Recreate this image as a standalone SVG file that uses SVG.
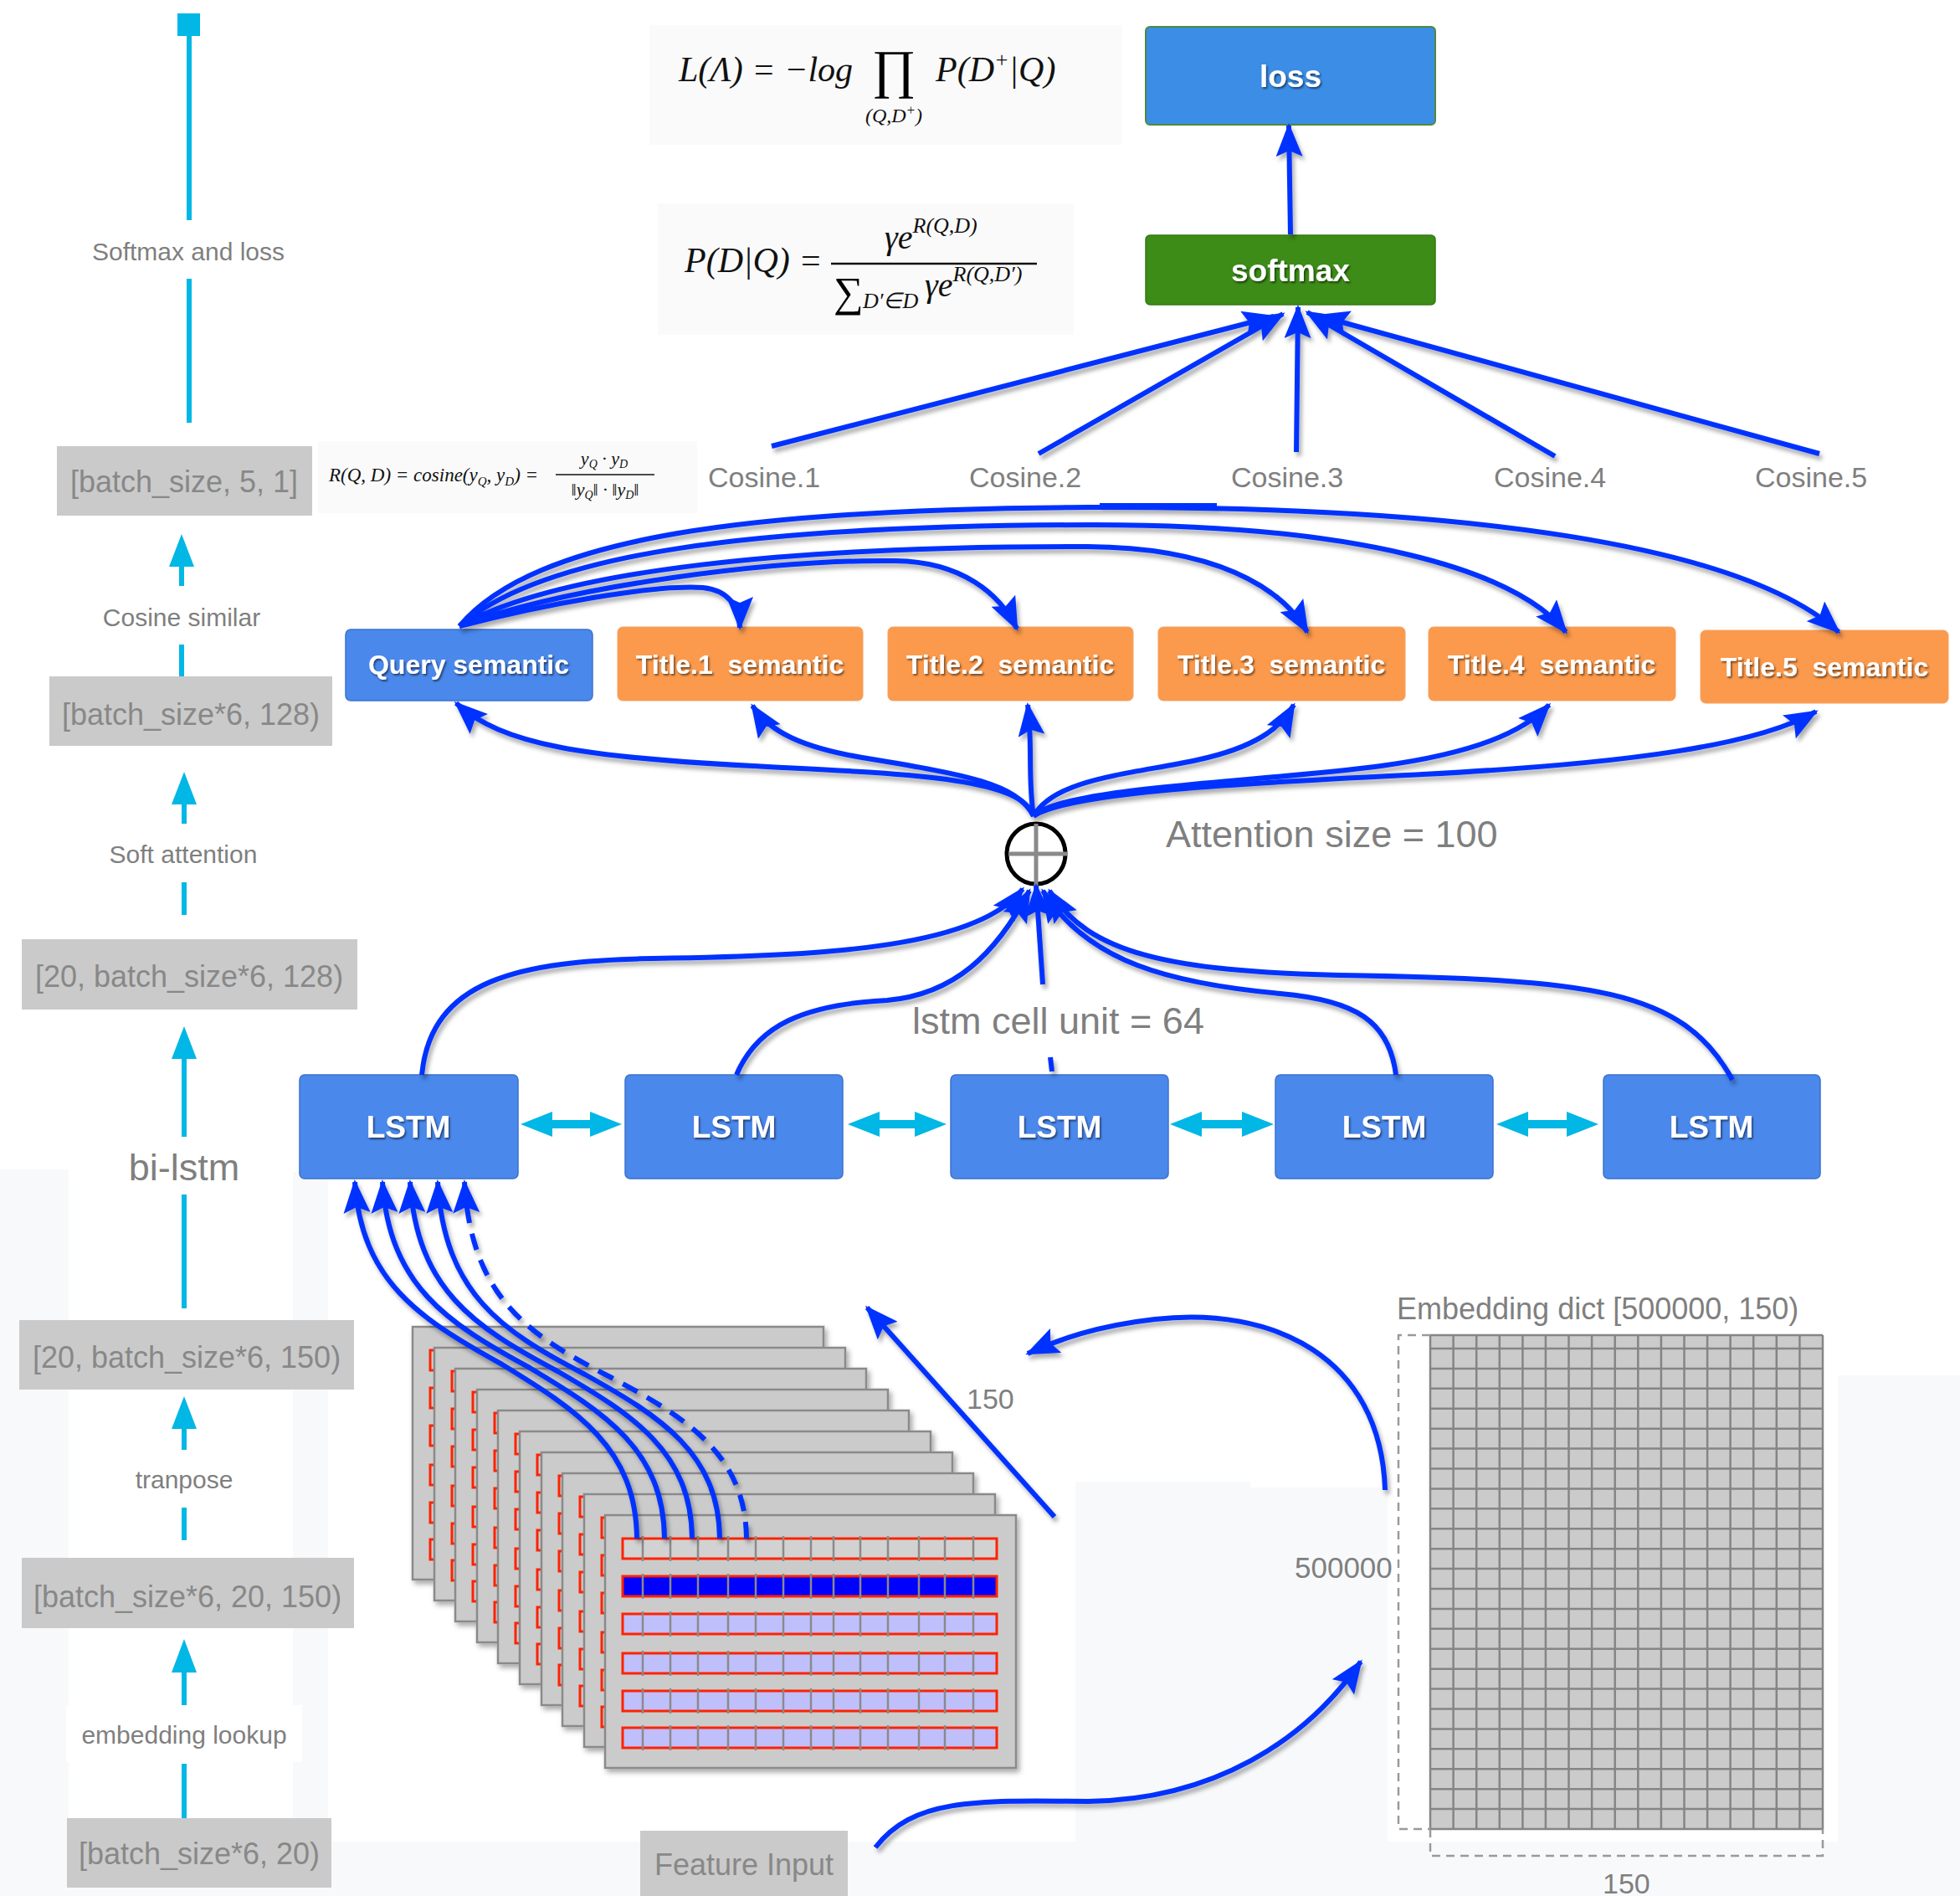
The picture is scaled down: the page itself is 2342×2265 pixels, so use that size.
<svg xmlns="http://www.w3.org/2000/svg" xmlns:xlink="http://www.w3.org/1999/xlink" width="2342" height="2265" viewBox="0 0 2342 2265">
<style>
.lbl{font-family:"Liberation Sans",Arial,sans-serif;fill:#7f7f7f}
.dim{font-family:"Liberation Sans",Arial,sans-serif;fill:#888;font-size:36px;text-anchor:middle}
.dimbox{fill:#cacaca}
.cy{stroke:#00b7e5;stroke-width:6;fill:none}
.cyf{fill:#00b7e5}
.bl{stroke:#0433ff;stroke-width:6;fill:none}
.ar{marker-end:url(#ah)}
.wt{font-family:"Liberation Sans",Arial,sans-serif;font-weight:bold;fill:#fff;text-anchor:middle;filter:url(#ts)}
.lstm{fill:#4a88ec;stroke:#3d72cc;stroke-width:1.5}
.ttl{fill:#fb9a4c;stroke:#f3a062;stroke-width:1}
.math{font-family:"Liberation Serif","Times New Roman",serif;font-style:italic;fill:#111}
.fbg{fill:#fafafa}
.bg{fill:#f8f9fb}
</style>
<defs>
<filter id="sh" x="-10%" y="-10%" width="120%" height="130%"><feDropShadow dx="3" dy="5" stdDeviation="2.5" flood-color="#000" flood-opacity="0.32"/></filter>
<filter id="ts" x="-10%" y="-20%" width="120%" height="150%"><feDropShadow dx="1.5" dy="2" stdDeviation="1.3" flood-color="#000" flood-opacity="0.55"/></filter>
<filter id="cs" x="-5%" y="-5%" width="115%" height="115%"><feDropShadow dx="3" dy="4" stdDeviation="3" flood-color="#000" flood-opacity="0.35"/></filter>
<marker id="ah" viewBox="0 0 40 32" refX="37" refY="16" markerWidth="40" markerHeight="32" markerUnits="userSpaceOnUse" orient="auto"><path d="M0,0 L40,16 L0,32 L7,16 z" fill="#0433ff"/></marker>
<g id="cardBack">
<rect width="491" height="302" fill="#cbcbcb" stroke="#8a8a8a" stroke-width="2.5"/>
<g fill="none" stroke="#ff2200" stroke-width="3">
<rect x="21" y="28" width="447" height="24"/><rect x="21" y="73" width="447" height="24"/><rect x="21" y="118" width="447" height="24"/><rect x="21" y="165" width="447" height="24"/><rect x="21" y="210" width="447" height="24"/><rect x="21" y="254" width="447" height="24"/>
</g>
</g>
<path id="divs" d="M768 0v30M801 0v30M834 0v30M870 0v30M903 0v30M936 0v30M969 0v30M996 0v30M1028 0v30M1061 0v30M1098 0v30M1129 0v30M1163 0v30" stroke="#8a8a8a" stroke-width="2.5" fill="none"/>
</defs>

<g id="background">
<rect x="0" y="0" width="2342" height="2265" fill="#ffffff"/>
<rect class="bg" x="0" y="1397" width="82" height="813"/>
<rect class="bg" x="350" y="1400" width="42" height="800"/>
<rect class="bg" x="1285" y="1770" width="209" height="440"/>
<rect class="bg" x="1494" y="1777" width="164" height="460"/>
<rect class="bg" x="2196" y="1643" width="146" height="567"/>
<rect x="0" y="2200" width="2342" height="65" fill="#f8f9fb"/>
</g>

<g id="left-column">
<rect class="cyf" x="212" y="16" width="27" height="27"/>
<line class="cy" x1="226" y1="43" x2="226" y2="263"/>
<text class="lbl" x="225" y="311" font-size="30" text-anchor="middle">Softmax and loss</text>
<line class="cy" x1="226" y1="333" x2="226" y2="505"/>
<g id="dim1"><rect class="dimbox" x="68" y="533" width="305" height="83"/><text class="dim" x="220" y="588">[batch_size, 5, 1]</text></g>
<line class="cy" x1="217" y1="700" x2="217" y2="672"/><polygon class="cyf" points="217,638 202,677 232,677"/>
<text class="lbl" x="217" y="748" font-size="30" text-anchor="middle">Cosine similar</text>
<line class="cy" x1="217" y1="770" x2="217" y2="809"/>
<g id="dim2"><rect class="dimbox" x="59" y="808" width="338" height="83"/><text class="dim" x="228" y="866">[batch_size*6, 128)</text></g>
<line class="cy" x1="220" y1="984" x2="220" y2="956"/><polygon class="cyf" points="220,922 205,961 235,961"/>
<text class="lbl" x="219" y="1031" font-size="30" text-anchor="middle">Soft attention</text>
<line class="cy" x1="220" y1="1054" x2="220" y2="1093"/>
<g id="dim3"><rect class="dimbox" x="26" y="1122" width="401" height="84"/><text class="dim" x="226" y="1179">[20, batch_size*6, 128)</text></g>
<line class="cy" x1="220" y1="1358" x2="220" y2="1260"/><polygon class="cyf" points="220,1226 205,1265 235,1265"/>
<text class="lbl" x="220" y="1410" font-size="45" text-anchor="middle">bi-lstm</text>
<line class="cy" x1="220" y1="1427" x2="220" y2="1563"/>
<g id="dim4"><rect class="dimbox" x="23" y="1577" width="400" height="83"/><text class="dim" x="223" y="1634">[20, batch_size*6, 150)</text></g>
<line class="cy" x1="220" y1="1732" x2="220" y2="1702"/><polygon class="cyf" points="220,1668 205,1707 235,1707"/>
<rect x="145" y="1732" width="149" height="68" fill="#fff"/>
<text class="lbl" x="220" y="1778" font-size="30" text-anchor="middle">tranpose</text>
<line class="cy" x1="220" y1="1801" x2="220" y2="1840"/>
<g id="dim5"><rect class="dimbox" x="26" y="1861" width="397" height="84"/><text class="dim" x="224" y="1920">[batch_size*6, 20, 150)</text></g>
<line class="cy" x1="220" y1="2037" x2="220" y2="1992"/><polygon class="cyf" points="220,1958 205,1998 235,1998"/>
<rect x="79" y="2037" width="282" height="68" fill="#fff"/>
<text class="lbl" x="220" y="2083" font-size="30" text-anchor="middle">embedding lookup</text>
<line class="cy" x1="220" y1="2107" x2="220" y2="2174"/>
<g id="dim6"><rect class="dimbox" x="80" y="2172" width="316" height="83"/><text class="dim" x="238" y="2227">[batch_size*6, 20)</text></g>
</g>

<g id="formula-loss">
<rect class="fbg" x="776" y="30" width="565" height="143"/>
<text class="math" x="811" y="97" font-size="42">L(Λ) = −log</text>
<text x="1042" y="104" font-family="Liberation Serif,serif" font-size="64">∏</text>
<text class="math" x="1118" y="97" font-size="42">P(D<tspan font-size="26" dy="-17">+</tspan><tspan dy="17">|Q)</tspan></text>
<text class="math" x="1068" y="146" font-size="24" text-anchor="middle">(Q,D<tspan font-size="17" dy="-9">+</tspan><tspan dy="9">)</tspan></text>
</g>

<g id="formula-softmax">
<rect class="fbg" x="786" y="243" width="497" height="157"/>
<text class="math" x="818" y="325" font-size="42">P(D|Q) =</text>
<line x1="993" y1="315" x2="1239" y2="315" stroke="#111" stroke-width="2.5"/>
<text class="math" x="1057" y="297" font-size="40">γe<tspan font-size="26" dy="-19">R(Q,D)</tspan></text>
<text x="996" y="366" font-family="Liberation Serif,serif" font-size="50">∑</text>
<text class="math" x="1031" y="368" font-size="26">D′∈D</text>
<text class="math" x="1105" y="354" font-size="40">γe<tspan font-size="26" dy="-18">R(Q,D′)</tspan></text>
</g>

<g id="formula-cosine">
<rect class="fbg" x="380" y="527" width="453" height="86"/>
<text class="math" x="393" y="575" font-size="23">R(Q, D) = cosine(y<tspan font-size="15" dy="5">Q</tspan><tspan dy="-5">, y</tspan><tspan font-size="15" dy="5">D</tspan><tspan dy="-5">) =</tspan></text>
<text class="math" x="722" y="555" font-size="22" text-anchor="middle">y<tspan font-size="14" dy="4">Q</tspan><tspan dy="-4"> · y</tspan><tspan font-size="14" dy="4">D</tspan></text>
<line x1="664" y1="567" x2="782" y2="567" stroke="#111" stroke-width="1.5"/>
<text class="math" x="723" y="592" font-size="22" text-anchor="middle">‖y<tspan font-size="14" dy="4">Q</tspan><tspan dy="-4">‖ · ‖y</tspan><tspan font-size="14" dy="4">D</tspan><tspan dy="-4">‖</tspan></text>
</g>

<g id="loss"><rect x="1369" y="32" width="346" height="117" rx="5" fill="#3b8de6" stroke="#4f8a3c" stroke-width="2"/><text class="wt" x="1542" y="104" font-size="37">loss</text></g>
<g id="softmax"><rect x="1369" y="281" width="346" height="83" rx="5" fill="#3c8c17" stroke="#357a14" stroke-width="1.5"/><text class="wt" x="1542" y="336" font-size="37">softmax</text></g>

<g id="cosines" class="lbl" font-size="34">
<text x="846" y="582">Cosine.1</text>
<text x="1158" y="582">Cosine.2</text>
<text x="1471" y="582">Cosine.3</text>
<text x="1785" y="582">Cosine.4</text>
<text x="2097" y="582">Cosine.5</text>
</g>

<g id="query-semantic"><rect x="413" y="752" width="295" height="85" rx="6" fill="#4a88ec" stroke="#3d72cc" stroke-width="1.5"/><text class="wt" x="560" y="805" font-size="32">Query semantic</text></g>
<g id="title1"><rect class="ttl" x="738" y="749" width="293" height="88" rx="6"/><text class="wt" x="884" y="805" font-size="32" xml:space="preserve">Title.1  semantic</text></g>
<g id="title2"><rect class="ttl" x="1061" y="749" width="293" height="88" rx="6"/><text class="wt" x="1207" y="805" font-size="32" xml:space="preserve">Title.2  semantic</text></g>
<g id="title3"><rect class="ttl" x="1384" y="749" width="295" height="88" rx="6"/><text class="wt" x="1531" y="805" font-size="32" xml:space="preserve">Title.3  semantic</text></g>
<g id="title4"><rect class="ttl" x="1707" y="749" width="295" height="88" rx="6"/><text class="wt" x="1854" y="805" font-size="32" xml:space="preserve">Title.4  semantic</text></g>
<g id="title5"><rect class="ttl" x="2032" y="753" width="296" height="87" rx="6"/><text class="wt" x="2180" y="808" font-size="32" xml:space="preserve">Title.5  semantic</text></g>

<g id="attention-node">
<ellipse cx="1238" cy="1020" rx="35" ry="36" fill="#fff" stroke="#000" stroke-width="5"/>
<line x1="1238" y1="984" x2="1238" y2="1058" stroke="#8a8a8a" stroke-width="5"/>
<line x1="1205" y1="1020" x2="1276" y2="1020" stroke="#8a8a8a" stroke-width="5"/>
</g>
<text class="lbl" x="1393" y="1012" font-size="45">Attention size = 100</text>
<text class="lbl" x="1090" y="1235" font-size="45">lstm cell unit = 64</text>

<g id="lstm1"><rect class="lstm" x="358" y="1284" width="261" height="124" rx="6"/><text class="wt" x="488" y="1359" font-size="37">LSTM</text></g>
<g id="lstm2"><rect class="lstm" x="747" y="1284" width="260" height="124" rx="6"/><text class="wt" x="877" y="1359" font-size="37">LSTM</text></g>
<g id="lstm3"><rect class="lstm" x="1136" y="1284" width="260" height="124" rx="6"/><text class="wt" x="1266" y="1359" font-size="37">LSTM</text></g>
<g id="lstm4"><rect class="lstm" x="1524" y="1284" width="260" height="124" rx="6"/><text class="wt" x="1654" y="1359" font-size="37">LSTM</text></g>
<g id="lstm5"><rect class="lstm" x="1916" y="1284" width="259" height="124" rx="6"/><text class="wt" x="2045" y="1359" font-size="37">LSTM</text></g>

<g id="bi-arrows" class="cyf">
<polygon points="622,1343 660,1328 660,1338 705,1338 705,1328 743,1343 705,1358 705,1348 660,1348 660,1358"/>
<polygon points="1013,1343 1051,1328 1051,1338 1093,1338 1093,1328 1131,1343 1093,1358 1093,1348 1051,1348 1051,1358"/>
<polygon points="1398,1343 1436,1328 1436,1338 1484,1338 1484,1328 1522,1343 1484,1358 1484,1348 1436,1348 1436,1358"/>
<polygon points="1788,1343 1826,1328 1826,1338 1872,1338 1872,1328 1910,1343 1872,1358 1872,1348 1826,1348 1826,1358"/>
</g>

<g id="feature-stack" filter="url(#cs)">
<use href="#cardBack" x="493" y="1585"/>
<use href="#cardBack" x="519" y="1610"/>
<use href="#cardBack" x="544" y="1635"/>
<use href="#cardBack" x="570" y="1660"/>
<use href="#cardBack" x="595" y="1685"/>
<use href="#cardBack" x="621" y="1710"/>
<use href="#cardBack" x="647" y="1735"/>
<use href="#cardBack" x="672" y="1760"/>
<use href="#cardBack" x="698" y="1785"/>
<g id="front-card">
<rect x="723" y="1810" width="491" height="302" fill="#cbcbcb" stroke="#8a8a8a" stroke-width="2.5"/>
<g stroke="#ff2200" stroke-width="3">
<rect x="744" y="1838" width="447" height="24" fill="#d2d2d2"/>
<rect x="744" y="1883" width="447" height="24" fill="#0000ff"/>
<rect x="744" y="1928" width="447" height="24" fill="#bfbffc"/>
<rect x="744" y="1975" width="447" height="24" fill="#bfbffc"/>
<rect x="744" y="2020" width="447" height="24" fill="#bfbffc"/>
<rect x="744" y="2064" width="447" height="24" fill="#bfbffc"/>
</g>
<use href="#divs" y="1835"/><use href="#divs" y="1880"/><use href="#divs" y="1925"/><use href="#divs" y="1972"/><use href="#divs" y="2017"/><use href="#divs" y="2061"/>
</g>
</g>

<g id="embedding-dict">
<rect x="1709" y="1595" width="469" height="590" fill="#cbcbcb"/>
<path d="M1709 1595V2185M1736.6 1595V2185M1764.2 1595V2185M1791.8 1595V2185M1819.4 1595V2185M1846.9 1595V2185M1874.5 1595V2185M1902.1 1595V2185M1929.7 1595V2185M1957.3 1595V2185M1984.9 1595V2185M2012.5 1595V2185M2040.1 1595V2185M2067.6 1595V2185M2095.2 1595V2185M2122.8 1595V2185M2150.4 1595V2185M2178 1595V2185" stroke="#858585" stroke-width="2.5" fill="none"/>
<path d="M1709 1595H2178M1709 1611H2178M1709 1634.9H2178M1709 1658.8H2178M1709 1682.8H2178M1709 1706.7H2178M1709 1730.6H2178M1709 1754.5H2178M1709 1778.4H2178M1709 1802.3H2178M1709 1826.3H2178M1709 1850.2H2178M1709 1874.1H2178M1709 1898H2178M1709 1921.9H2178M1709 1945.8H2178M1709 1969.8H2178M1709 1993.7H2178M1709 2017.6H2178M1709 2041.5H2178M1709 2065.4H2178M1709 2089.3H2178M1709 2113.3H2178M1709 2137.2H2178M1709 2161.1H2178M1709 2185H2178" stroke="#858585" stroke-width="2.5" fill="none"/>
<path d="M1709 1595H1671V2185H1709M1709 2185V2217H2178V2185" stroke="#9a9a9a" stroke-width="2.5" stroke-dasharray="10 7" fill="none"/>
<text class="lbl" x="1669" y="1576" font-size="36">Embedding dict [500000, 150)</text>
<text class="lbl" x="1547" y="1885" font-size="35">500000</text>
<text class="lbl" x="1915" y="2262" font-size="34">150</text>
</g>

<g id="feature-input"><rect class="dimbox" x="765" y="2187" width="248" height="78"/><text class="dim" x="889" y="2240">Feature Input</text></g>
<text class="lbl" x="1155" y="1683" font-size="34">150</text>

<g id="connectors" filter="url(#sh)">
<path class="bl ar" stroke-width="5" d="M1542 280 L1540 150"/>
<path class="bl ar" stroke-width="7" d="M922 533 L1522 378"/>
<path class="bl ar" stroke-width="7" d="M1241 542 L1533 375"/>
<path class="bl ar" stroke-width="5" d="M1549 540 L1551 367"/>
<path class="bl ar" stroke-width="7" d="M1858 545 L1562 373"/>
<path class="bl ar" stroke-width="7" d="M2174 542 L1575 377"/>

<path class="bl ar" d="M549 748 C650 722 780 698 840 702 C870 705 884 725 884 750"/>
<path class="bl ar" d="M549 748 C680 700 920 668 1070 670 C1150 671 1195 710 1215 751"/>
<path class="bl ar" d="M549 748 C670 680 950 652 1300 653 C1450 654 1530 700 1562 755"/>
<path class="bl ar" d="M549 748 C650 660 900 628 1300 627 C1620 626 1810 680 1871 755"/>
<path class="bl ar" d="M549 748 C640 640 900 608 1300 606 C1750 604 2080 650 2197 755"/>
<path class="bl" stroke-width="5" d="M1314 604 L1454 604"/>

<path class="bl ar" d="M1235 975 C1220 930 1100 925 900 915 C700 905 600 890 545 840"/>
<path class="bl ar" d="M1235 975 C1215 935 1150 925 1030 905 C960 893 920 875 899 843"/>
<path class="bl ar" d="M1235 975 C1228 930 1234 890 1228 842"/>
<path class="bl ar" d="M1235 975 C1260 930 1350 925 1430 908 C1500 893 1530 870 1546 842"/>
<path class="bl ar" d="M1235 975 C1270 940 1500 935 1650 915 C1760 900 1820 875 1851 842"/>
<path class="bl ar" d="M1235 975 C1280 945 1500 935 1700 925 C1950 912 2100 890 2170 850"/>

<path class="bl ar" d="M504 1284 C515 1170 620 1148 780 1145 C1000 1142 1170 1130 1222 1062"/>
<path class="bl ar" d="M880 1284 C905 1225 960 1200 1060 1195 C1140 1188 1190 1140 1230 1064"/>
<path class="bl" stroke-width="5" d="M1257 1280 L1255 1263"/>
<path class="bl ar" stroke-width="5" d="M1246 1176 L1238 1058"/>
<path class="bl ar" d="M1668 1284 C1660 1220 1620 1195 1530 1187 C1400 1175 1300 1150 1246 1064"/>
<path class="bl ar" d="M2070 1290 C2010 1180 1900 1170 1600 1165 C1400 1160 1300 1140 1254 1064"/>

<path class="bl ar" d="M761 1838 C760 1730 690 1685 600 1630 C500 1575 432 1530 424 1412"/>
<path class="bl ar" d="M794 1838 C793 1732 723 1688 633 1634 C533 1580 465 1535 457 1412"/>
<path class="bl ar" d="M827 1838 C826 1734 756 1690 666 1638 C566 1585 498 1540 490 1412"/>
<path class="bl ar" d="M860 1838 C859 1736 789 1692 699 1642 C599 1590 531 1545 523 1412"/>
<path class="bl ar" stroke-dasharray="20 13" d="M892 1838 C891 1738 821 1694 731 1646 C631 1595 563 1550 555 1412"/>

<path class="bl ar" d="M1260 1812 L1036 1562"/>
<path class="bl ar" d="M1655 1780 C1650 1620 1520 1560 1380 1576 C1310 1584 1265 1600 1228 1617"/>
<path class="bl ar" d="M1046 2207 C1090 2150 1160 2150 1300 2152 C1450 2150 1560 2080 1626 1985"/>
</g>
</svg>
